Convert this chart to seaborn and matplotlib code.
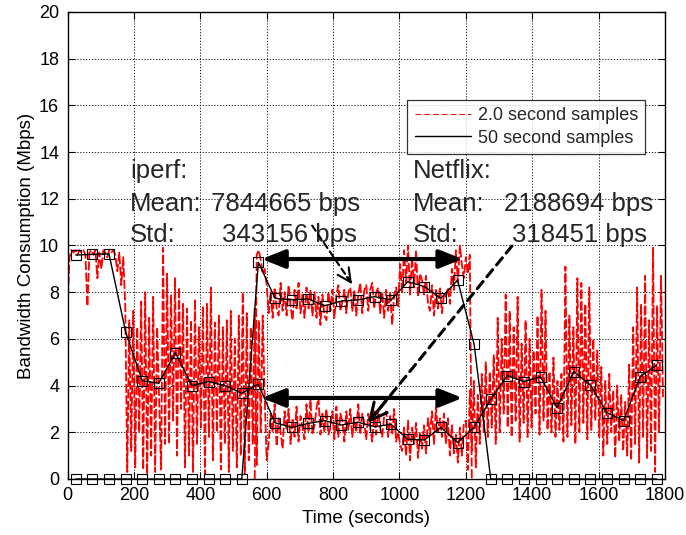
import numpy as np
import pandas as pd
import matplotlib
matplotlib.use("Agg")
import matplotlib.pyplot as plt
import seaborn as sns
from matplotlib.lines import Line2D

sns.set_theme(style="white")
plt.rcParams["font.family"] = ["Liberation Sans", "DejaVu Sans"]
plt.rcParams["lines.dashed_pattern"] = [5, 1.4]

# ---------------- data ----------------
red_step = 6  # seconds between listed fine samples
netflix_red = [
    7.3, 9.5, 9.8, 9.7, 9.8, 9.6, 9.8, 9.7, 9.8, 9.6,
    7.4, 9.7, 9.8, 9.6, 9.8, 8.6, 9.7, 9.0, 9.8, 9.7,
    9.5, 9.8, 9.7, 9.8, 9.6, 8.9, 9.7, 8.3, 9.5, 7.4,
    0.3, 6.8, 1.2, 7.2, 0.5, 6.5, 2.0, 7.6, 0.4, 8.0,
    0.2, 6.9, 1.0, 7.8, 0.3, 6.5, 3.5, 0.4, 9.9, 1.5,
    8.8, 1.5, 7.9, 2.5, 8.6, 1.0, 8.2, 3.0, 7.5, 0.5,
    7.3, 1.0, 6.8, 0.3, 7.7, 1.5, 6.5, 2.2, 7.4, 0.2,
    7.5, 1.8, 8.2, 0.8, 6.7, 2.0, 7.0, 0.4, 6.5, 1.5,
    6.8, 0.3, 7.2, 1.2, 6.0, 0.5, 7.0, 1.0, 8.0, 0.2,
    7.1, 0.8, 6.5, 1.5, 7.3, 0.6, 6.8, 2.0, 7.0, 3.5,
    0.8, 1.5, 2.8, 2.0, 3.2, 1.4, 2.6, 2.0, 1.3, 2.9,
    2.1, 3.0, 1.5, 2.6, 1.8, 3.1, 1.6, 2.7, 2.2, 1.7,
    3.2, 2.0, 3.4, 1.9, 2.3, 3.0, 3.5, 1.9, 2.8, 2.0,
    3.0, 1.9, 2.2, 2.9, 1.7, 3.1, 1.8, 2.8, 2.5, 1.6,
    2.9, 2.1, 3.0, 1.8, 2.6, 2.0, 3.2, 1.9, 2.8, 2.4,
    1.7, 2.8, 2.2, 1.6, 2.9, 1.9, 3.0, 2.2, 1.8, 2.7,
    2.9, 1.8, 2.7, 1.9, 3.0, 1.6, 2.0, 1.5, 1.2, 2.2,
    1.0, 2.5, 0.8, 2.2, 1.5, 2.4, 0.9, 2.0, 1.3, 2.3,
    1.1, 2.6, 1.9, 2.9, 1.5, 3.1, 2.0, 2.6, 1.8, 2.8,
    1.5, 2.6, 1.0, 2.3, 1.1, 1.9, 0.7, 2.2, 1.0, 2.4,
    2.5, 0.4, 3.8, 1.2, 4.2, 0.5, 3.6, 1.5, 4.5, 2.0,
    5.0, 1.8, 4.6, 2.2, 5.3, 1.5, 6.9, 2.0, 6.0, 2.8,
    7.9, 2.2, 7.2, 1.8, 6.5, 2.5, 7.8, 1.6, 5.8, 2.4,
    6.8, 1.8, 6.0, 2.2, 5.5, 2.8, 7.0, 1.9, 8.1, 2.5,
    7.2, 2.1, 4.6, 2.0, 5.2, 1.8, 4.2, 2.1, 4.5, 1.6,
    9.1, 1.8, 7.0, 2.3, 6.5, 1.5, 8.6, 2.0, 8.4, 2.4,
    7.5, 1.7, 8.2, 2.1, 6.0, 2.5, 5.5, 1.8, 4.8, 1.0,
    4.2, 1.5, 4.5, 2.0, 3.8, 0.9, 4.0, 1.6, 3.6, 1.2,
    3.3, 1.0, 4.9, 0.8, 6.5, 1.5, 8.2, 0.7, 7.5, 1.8,
    8.7, 0.9, 6.8, 1.2, 9.9, 0.3, 7.4, 2.0, 8.7, 3.5,
]
iperf_red_start = 564
iperf_red = [
    0.0, 9.6, 9.8, 9.4, 8.8, 9.0,
    8.3, 7.1, 8.0, 6.9, 8.2, 7.3, 7.0, 8.4, 7.2, 8.0,
    7.0, 8.3, 7.4, 6.8, 8.1, 7.3, 8.4, 7.1, 7.9, 6.9,
    8.2, 7.3, 8.1, 7.0, 8.0, 6.9, 7.8, 6.6, 7.9, 7.0,
    6.8, 8.0, 7.2, 8.1, 6.9, 7.9, 8.3, 7.2, 7.6, 8.1,
    7.1, 8.0, 8.2, 7.2, 8.1, 7.0, 7.9, 8.4, 7.1, 8.1,
    8.3, 7.2, 8.1, 8.4, 7.3, 8.0, 8.2, 7.1, 8.0, 6.9,
    8.1, 7.2, 8.0, 6.6, 7.9, 8.2, 7.4, 9.2, 8.0, 9.8,
    8.4, 10.0, 7.9, 9.5, 8.2, 9.8, 7.8, 8.8, 8.5, 7.9,
    8.7, 7.5, 7.2, 8.3, 7.0, 8.1, 7.3, 8.2, 7.1, 7.9,
    7.8, 8.2, 7.5, 9.0, 8.1, 9.8, 8.4, 10.0, 9.2, 8.6,
    9.5, 8.8, 9.6, 0.0,
]
avg_times = list(range(25, 1800, 50))
netflix_avg = [9.59, 9.62, 9.64, 6.31, 4.21, 4.10, 5.41, 4.00, 4.17, 4.00, 3.67, 4.06,
               2.41, 2.21, 2.38, 2.50, 2.31, 2.43, 2.24, 2.34, 1.70, 1.67, 2.21, 1.56,
               2.21, 3.41, 4.43, 4.17, 4.38, 3.05, 4.60, 4.03, 2.84, 2.50, 4.38, 4.88]
iperf_avg = [0, 0, 0, 0, 0, 0, 0, 0, 0, 0, 0, 9.28,
             7.74, 7.67, 7.71, 7.42, 7.62, 7.67, 7.81, 7.67, 8.45, 8.24, 7.74, 8.52,
             5.77, 0, 0, 0, 0, 0, 0, 0, 0, 0, 0, 0]

legend_labels = ["2.0 second samples", "50 second samples"]
iperf_text = ["iperf:", "Mean:", "7844665 bps", "Std:", "343156 bps"]
netflix_text = ["Netflix:", "Mean:", "2188694 bps", "Std:", "318451 bps"]

# ---------------- frames ----------------
df_nr = pd.DataFrame({"t": np.arange(len(netflix_red)) * red_step, "v": netflix_red})
df_ir = pd.DataFrame({"t": iperf_red_start + np.arange(len(iperf_red)) * red_step, "v": iperf_red})
df_na = pd.DataFrame({"t": avg_times, "v": netflix_avg})
df_ia = pd.DataFrame({"t": avg_times, "v": iperf_avg})

fig = plt.figure(figsize=(6.86, 5.35), dpi=100)
ax = fig.add_axes([0.0984, 0.1047, 0.8710, 0.8729])

for d in (df_nr, df_ir):
    sns.lineplot(data=d, x="t", y="v", ax=ax, color="red", lw=1.3, linestyle="--",
                 errorbar=None, sort=False, zorder=2)
for d in (df_na, df_ia):
    sns.lineplot(data=d, x="t", y="v", ax=ax, color="black", lw=1.0, marker="s",
                 markersize=7.5, markerfacecolor="none", markeredgecolor="black",
                 markeredgewidth=0.8, errorbar=None, sort=False, clip_on=False, zorder=4)

ax.set_xlim(0, 1800)
ax.set_ylim(0, 20)
ax.set_xticks(np.arange(0, 1801, 200))
ax.set_yticks(np.arange(0, 21, 2))
ax.grid(True, linestyle=(0, (1.5, 2.0)), color="black", lw=0.6)
ax.tick_params(direction="in", top=True, right=True, bottom=True, left=True,
               length=5, width=0.8, labelsize=13, colors="black", pad=6)
for s in ax.spines.values():
    s.set_color("black")
    s.set_linewidth(1.0)
ax.set_xlabel("Time (seconds)", fontsize=13.5, color="black", labelpad=4)
ax.set_ylabel("Bandwidth Consumption (Mbps)", fontsize=13.5, color="black", labelpad=3)

# ---------------- annotations ----------------
fs = 18.5
for x0, xr_mean, xr_std, lab in ((188, 881, 872, iperf_text), (1040, 1763, 1745, netflix_text)):
    ax.text(x0, 12.89, lab[0], fontsize=fs, va="baseline", zorder=6)
    ax.text(x0, 11.48, lab[1], fontsize=fs, va="baseline", zorder=6)
    ax.text(xr_mean, 11.48, lab[2], fontsize=fs, va="baseline", ha="right", zorder=6)
    ax.text(x0, 10.15, lab[3], fontsize=fs, va="baseline", zorder=6)
    ax.text(xr_std, 10.15, lab[4], fontsize=fs, va="baseline", ha="right", zorder=6)

for y in (9.42, 3.47):
    ax.annotate("", xy=(1190, y), xytext=(585, y),
                arrowprops=dict(arrowstyle="<|-|>,head_length=0.7,head_width=0.28",
                                lw=3, color="black", shrinkA=0, shrinkB=0,
                                mutation_scale=20), zorder=7)

# dashed pointer arrows
for (xs, ys), (xe, ye), lw, ms in (((737, 10.85), (857, 8.35), 1.5, 16),
                                   ((1339, 9.98), (905, 2.40), 2.2, 20)):
    ax.annotate("", xy=(xe, ye), xytext=(xs, ys),
                arrowprops=dict(arrowstyle="-", lw=lw, ls=(0, (3, 2)), color="black",
                                shrinkA=0, shrinkB=0), zorder=7)
    fx = xe + (xs - xe) * 0.12
    fy = ye + (ys - ye) * 0.12
    ax.annotate("", xy=(xe, ye), xytext=(fx, fy),
                arrowprops=dict(arrowstyle="->,head_length=0.6,head_width=0.3", lw=lw,
                                color="black", shrinkA=0, shrinkB=0,
                                mutation_scale=ms), zorder=7)

handles = [Line2D([], [], color="red", lw=0.7, linestyle=(0, (6, 3))),
           Line2D([], [], color="black", lw=1.0)]
leg = ax.legend(handles, legend_labels, loc="upper right", bbox_to_anchor=(0.967, 0.8116),
                borderaxespad=0, fontsize=13, frameon=True, fancybox=False,
                handlelength=3.1, handletextpad=0.4, borderpad=0.4, labelspacing=0.3)
leg.get_frame().set_edgecolor("black")
leg.get_frame().set_linewidth(0.9)
leg.set_zorder(8)

fig.savefig("out.png", dpi=100)
